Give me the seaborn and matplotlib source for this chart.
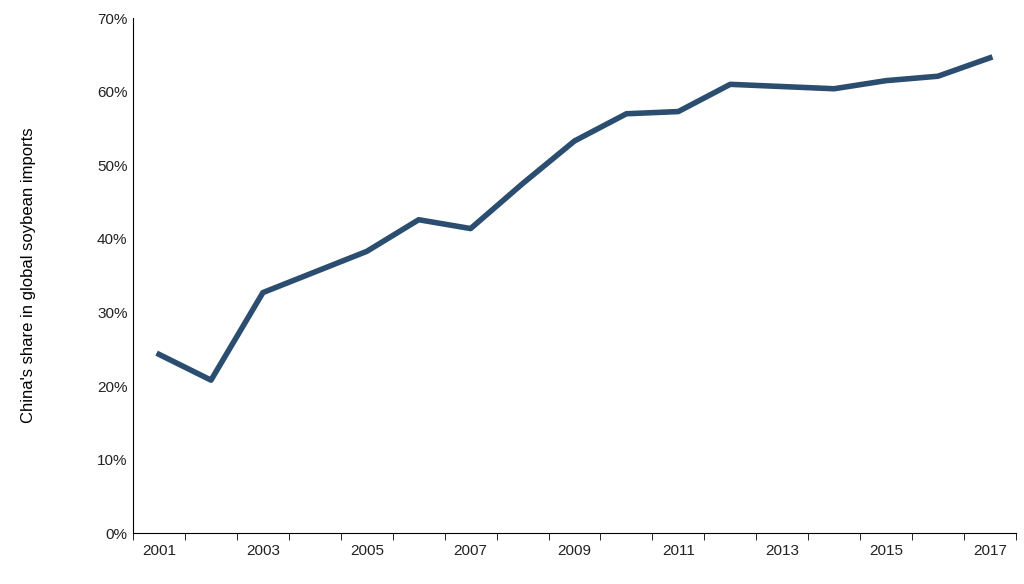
import matplotlib
matplotlib.use("Agg")
import matplotlib.pyplot as plt
import seaborn as sns
import pandas as pd
import numpy as np
from matplotlib.ticker import FixedLocator, PercentFormatter

years = list(range(2001, 2018))
share = [24.3, 20.8, 32.7, 35.5, 38.3, 42.6, 41.4, 47.5, 53.3, 57.0, 57.3, 61.0, 60.7, 60.4, 61.5, 62.1, 64.6]
ylabel = "China's share in global soybean imports"

df = pd.DataFrame({"year": years, "share": share})
plt.rcParams["font.family"] = "Liberation Sans"
fig = plt.figure(figsize=(10.24, 5.84), dpi=100)
ax = fig.add_axes([0.13, 0.087, 0.862, 0.882])
sns.lineplot(data=df, x="year", y="share", ax=ax, color="#2b4d6f", linewidth=4)
ax.set_xlim(years[0] - 0.5, years[-1] + 0.5)
ax.set_ylim(0, 70)
ax.set_yticks(np.arange(0, 71, 10))
ax.yaxis.set_major_formatter(PercentFormatter(decimals=0))
ax.set_xticks(years[::2])
ax.set_xticklabels([str(y) for y in years[::2]])
ax.xaxis.set_minor_locator(FixedLocator(np.arange(years[0] - 0.5, years[-1] + 1, 1)))
ax.tick_params(axis="x", which="major", length=0, pad=8)
ax.tick_params(axis="x", which="minor", length=5, color="black")
ax.tick_params(axis="y", length=0, pad=4)
ax.tick_params(labelsize=11, colors="#222222")
for s in ["top", "right"]:
    ax.spines[s].set_visible(False)
ax.spines["left"].set_color("black")
ax.spines["bottom"].set_color("black")
ax.set_xlabel("")
ax.set_ylabel(ylabel, fontsize=12, labelpad=44)
fig.savefig("out.png", dpi=100)
